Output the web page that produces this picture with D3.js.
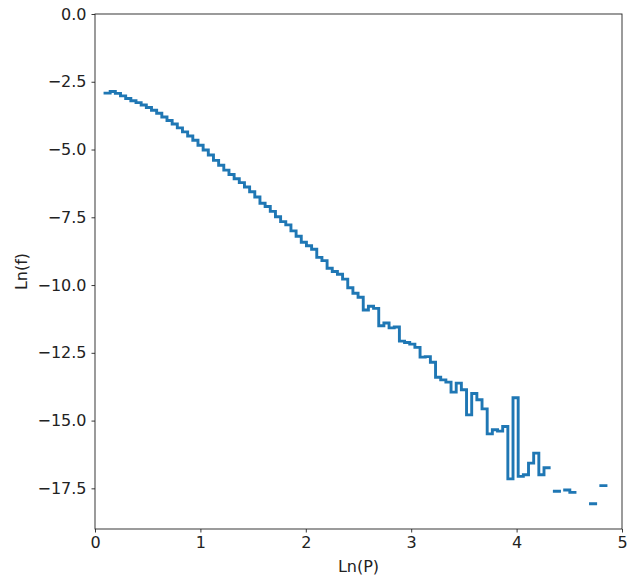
<!DOCTYPE html>
<html>
<head>
<meta charset="utf-8">
<script src="https://cdn.jsdelivr.net/npm/d3@7"></script>
<style>
    body { margin: 0; background: #fff; }
    svg text { font-family: "DejaVu Sans", sans-serif; }
</style>
</head>
<body>
<svg id="chart" width="628" height="577"></svg>
<script>
"use strict";

// histogram bins in Ln(P): first left edge and bin width
const binStart = 0.095;
const binWidth = 0.049;

// Ln(f) per bin, null where the bin is empty
const lnF = [
    -2.92, -2.86, -2.93, -3.02, -3.12, -3.20, -3.27, -3.36, -3.45, -3.55,
    -3.66, -3.80, -3.93, -4.06, -4.20, -4.35, -4.50, -4.66, -4.84, -5.02,
    -5.20, -5.40, -5.58, -5.76, -5.92, -6.08, -6.22, -6.38, -6.56, -6.75,
    -6.98, -7.10, -7.28, -7.48, -7.66, -7.78, -8.00, -8.20, -8.42, -8.55,
    -8.68, -8.98, -9.10, -9.38, -9.50, -9.60, -9.78, -10.10, -10.30, -10.45,
    -10.92, -10.78, -10.86, -11.50, -11.40, -11.58, -11.55, -12.07, -12.12, -12.18,
    -12.30, -12.66, -12.64, -12.85, -13.40, -13.50, -13.58, -13.95, -13.62, -13.86,
    -14.79, -14.00, -14.23, -14.57, -15.49, -15.34, -15.39, -15.22, -17.15, -14.16,
    -17.06, -17.00, -16.57, -16.20, -17.00, -16.74, null, -17.61, null, -17.56,
    -17.65, null, null, null, -18.07, null, -17.40
];

const xTicks = [0, 1, 2, 3, 4, 5];
const yTicks = [0, -2.5, -5, -7.5, -10, -12.5, -15, -17.5];

const margin = { top: 14, right: 6, bottom: 48, left: 95 };
const svg = d3.select('#chart');
const width = +svg.attr('width') - margin.left - margin.right;
const height = +svg.attr('height') - margin.top - margin.bottom;

const x = d3.scaleLinear().domain([0, 5]).range([0, width]);
const y = d3.scaleLinear().domain([-19, 0]).range([height, 0]);

const g = svg.append('g')
    .attr('transform', 'translate(' + margin.left + ',' + margin.top + ')');

// step outline: a flat run per bin, broken wherever a bin is empty
let pts = [];
lnF.forEach(function(v, i) {
    if (v === null) return;
    let x0 = binStart + i * binWidth;
    pts.push({ p: x0, f: v });
    pts.push({ p: x0 + binWidth, f: v });
    if (lnF[i + 1] === null || lnF[i + 1] === undefined) pts.push({ gap: true });
});

const line = d3.line()
    .defined(function(d) { return !d.gap; })
    .x(function(d) { return x(d.p); })
    .y(function(d) { return y(d.f); });

g.append('path')
    .datum(pts)
    .attr('d', line)
    .style('fill', 'none')
    .style('stroke', '#1f77b4')
    .style('stroke-width', 2.9)
    .style('stroke-linejoin', 'miter')
    .style('stroke-linecap', 'square');

const fmtY = function(d) { return d3.format('.1f')(d).replace('-', '\u2212'); };

const xAxis = g.append('g')
    .attr('transform', 'translate(0,' + height + ')')
    .call(d3.axisBottom(x).tickValues(xTicks).tickFormat(d3.format('d')).tickSize(3.5).tickPadding(4));

const yAxis = g.append('g')
    .call(d3.axisLeft(y).tickValues(yTicks).tickFormat(fmtY).tickSize(3.5).tickPadding(5));

[xAxis, yAxis].forEach(function(a) {
    a.attr('font-family', null);
    a.select('.domain').remove();
    a.selectAll('line').style('stroke', '#222').style('stroke-width', 0.9);
    a.selectAll('text').style('font-size', '16px').style('fill', '#222');
});

// frame
g.append('rect')
    .attr('width', width)
    .attr('height', height)
    .style('fill', 'none')
    .style('stroke', '#222')
    .style('stroke-width', 0.9);

svg.append('text')
    .attr('x', margin.left + width / 2)
    .attr('y', 572)
    .attr('text-anchor', 'middle')
    .style('font-size', '16px')
    .style('fill', '#222')
    .text('Ln(P)');

svg.append('text')
    .attr('transform', 'translate(27,' + (margin.top + height / 2) + ') rotate(-90)')
    .attr('text-anchor', 'middle')
    .style('font-size', '16px')
    .style('fill', '#222')
    .text('Ln(f)');
</script>
</body>
</html>
